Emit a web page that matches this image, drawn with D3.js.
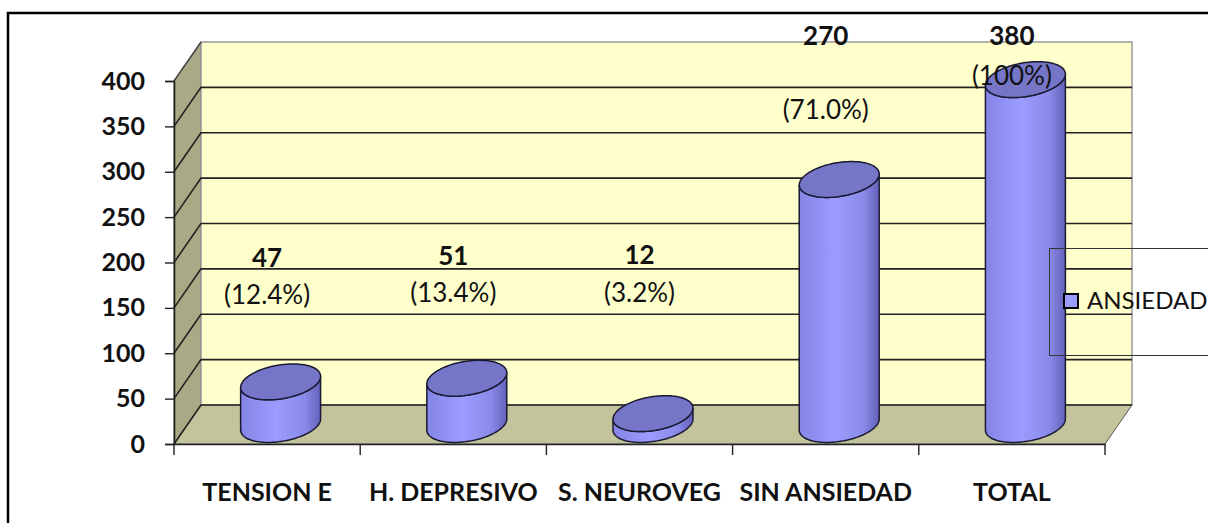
<!DOCTYPE html>
<html>
<head>
<meta charset="utf-8">
<script src="https://cdn.jsdelivr.net/npm/d3@7"></script>
<style>
  html, body { margin: 0; padding: 0; background: #fff; }
  svg { display: block; }
  text { font-family: Lato, "Open Sans", sans-serif; fill: #111; }
</style>
</head>
<body>
<div id="chart"></div>
<script>
// chart data
const categories = ["TENSION E", "H. DEPRESIVO", "S. NEUROVEG", "SIN ANSIEDAD", "TOTAL"];
const values = [47, 51, 12, 270, 380];
const percents = ["(12.4%)", "(13.4%)", "(3.2%)", "(71.0%)", "(100%)"];
const yTicks = [0, 50, 100, 150, 200, 250, 300, 350, 400];
const seriesName = "ANSIEDAD";

// where the labels were dragged to, in axis units
const countLevel = [205, 207, 208, 450, 450];
const pctLevel = [164, 166, 167, 368, 406];

const W = 1208, H = 523;
const depthX = 27, depthY = -39; // oblique offset of the back wall

const svg = d3.select("#chart").append("svg")
  .attr("width", W).attr("height", H);

const x = d3.scaleBand().domain(categories).range([174, 1105]);
const y = d3.scaleLinear().domain([0, 400]).range([444, 81]);

// project (px, value, depth 0..1)
const proj = (px, v, z) => [px + z * depthX, y(v) + z * depthY];

const defs = svg.append("defs");
const grad = defs.append("linearGradient").attr("id", "cyl")
  .attr("x1", "0%").attr("x2", "100%").attr("y1", "0%").attr("y2", "0%");
grad.append("stop").attr("offset", "0%").attr("stop-color", "#8585e6");
grad.append("stop").attr("offset", "45%").attr("stop-color", "#9c9cff");
grad.append("stop").attr("offset", "80%").attr("stop-color", "#8a8ae8");
grad.append("stop").attr("offset", "100%").attr("stop-color", "#6262bb");

// outer frame (only top and left are in view)
svg.append("path")
  .attr("d", `M8,${H} L8,13 L${W},13`)
  .attr("fill", "none").attr("stroke", "#000").attr("stroke-width", 2.5);

const x0 = x.range()[0], x1 = x.range()[1];
const poly = pts => "M" + pts.map(p => p.join(",")).join("L") + "Z";

// side wall
svg.append("path")
  .attr("d", poly([proj(x0, 0, 0), proj(x0, 400, 0), proj(x0, 400, 1), proj(x0, 0, 1)]))
  .attr("fill", "#a9a986").attr("stroke", "#555").attr("stroke-width", 1);

// floor
svg.append("path")
  .attr("d", poly([proj(x0, 0, 0), proj(x1, 0, 0), proj(x1, 0, 1), proj(x0, 0, 1)]))
  .attr("fill", "#c3c39c").attr("stroke", "#555").attr("stroke-width", 1);

// back wall
svg.append("path")
  .attr("d", poly([proj(x0, 0, 1), proj(x1, 0, 1), proj(x1, 400, 1), proj(x0, 400, 1)]))
  .attr("fill", "#ffffcc").attr("stroke", "#999").attr("stroke-width", 1.5);

// grid lines on back wall and side wall
const grid = svg.append("g");
yTicks.filter(t => t > 0 && t < 400).forEach(t => {
  const a = proj(x0, t, 0), b = proj(x0, t, 1), c = proj(x1, t, 1);
  grid.append("path")
    .attr("d", `M${a}L${b}L${c}`)
    .attr("fill", "none").attr("stroke", "#222").attr("stroke-width", 1.6);
});
// the zero line on the side wall and the floor back edge
grid.append("path")
  .attr("d", `M${proj(x0, 0, 0)}L${proj(x0, 0, 1)}L${proj(x1, 0, 1)}`)
  .attr("fill", "none").attr("stroke", "#222").attr("stroke-width", 1.6);
grid.append("path")
  .attr("d", `M${proj(x0, 400, 0)}L${proj(x0, 400, 1)}`)
  .attr("fill", "none").attr("stroke", "#444").attr("stroke-width", 1.4);

// y axis
const yAxis = svg.append("g").attr("transform", `translate(${x0},0)`)
  .call(d3.axisLeft(y).tickValues(yTicks).tickSize(9).tickPadding(20));
yAxis.select(".domain").attr("stroke", "#222").attr("stroke-width", 1.6);
yAxis.selectAll(".tick line").attr("stroke", "#222").attr("stroke-width", 1.4);
yAxis.selectAll("text")
  .style("font-size", "25px").style("font-weight", "bold").attr("fill", "#111");

// x axis
const xAxis = svg.append("g").attr("transform", `translate(0,${y(0)})`)
  .call(d3.axisBottom(x).tickSize(0).tickPadding(39));
xAxis.select(".domain").attr("stroke", "#222").attr("stroke-width", 1.6);
xAxis.selectAll("text")
  .style("font-size", "25px").style("font-weight", "bold").attr("fill", "#111");
xAxis.selectAll(".sep")
  .data(categories.concat([null]))
  .enter().append("line")
  .attr("x1", (d, i) => i < categories.length ? x(d) : x1)
  .attr("x2", (d, i) => i < categories.length ? x(d) : x1)
  .attr("y1", 0).attr("y2", 11)
  .attr("stroke", "#222").attr("stroke-width", 1.4);

// cylinders
const rx = 38, rz = 0.46;
function ellipsePts(cx, v, from, to, n) {
  const pts = [];
  for (let k = 0; k <= n; k++) {
    const t = from + (to - from) * k / n;
    pts.push(proj(cx + rx * Math.cos(t), v, 0.5 + rz * Math.sin(t)));
  }
  return pts;
}
const tR = Math.atan2(rz * depthX, rx); // angle of the rightmost point
const line = d3.line();

const bars = svg.append("g");
categories.forEach((c, i) => {
  const cx = x(c) + x.bandwidth() / 2;
  const v = values[i];
  const topFront = ellipsePts(cx, v, tR - Math.PI, tR, 60);
  const botFront = ellipsePts(cx, 0, tR, tR - Math.PI, 60);
  bars.append("path")
    .attr("d", line(topFront.concat(botFront)) + "Z")
    .attr("fill", "url(#cyl)").attr("stroke", "#1a1a33").attr("stroke-width", 1.5);
  bars.append("path")
    .attr("d", line(ellipsePts(cx, v, 0, 2 * Math.PI, 90)) + "Z")
    .attr("fill", "#7676c9").attr("stroke", "#1a1a33").attr("stroke-width", 1.5);
});

// data labels
const labels = svg.append("g");
categories.forEach((c, i) => {
  const cx = x(c) + x.bandwidth() / 2;
  labels.append("text")
    .attr("x", cx).attr("y", y(countLevel[i])).attr("dy", "0.35em")
    .attr("text-anchor", "middle")
    .style("font-size", "26px").style("font-weight", "bold")
    .text(values[i]);
  labels.append("text")
    .attr("x", cx).attr("y", y(pctLevel[i])).attr("dy", "0.35em")
    .attr("text-anchor", "middle")
    .style("font-size", "26px").style("font-weight", "normal")
    .text(percents[i]);
});

// legend
const legend = svg.append("g");
legend.append("rect")
  .attr("x", 1049.5).attr("y", 248.5).attr("width", 200).attr("height", 107)
  .attr("fill", "none").attr("stroke", "#333").attr("stroke-width", 1);
legend.append("rect")
  .attr("x", 1064).attr("y", 294).attr("width", 14).attr("height", 14)
  .attr("fill", "#9c9cff").attr("stroke", "#000").attr("stroke-width", 2);
legend.append("text")
  .attr("x", 1087).attr("y", 301).attr("dy", "0.35em")
  .style("font-size", "24px").style("font-weight", "normal")
  .text(seriesName);
</script>
</body>
</html>
